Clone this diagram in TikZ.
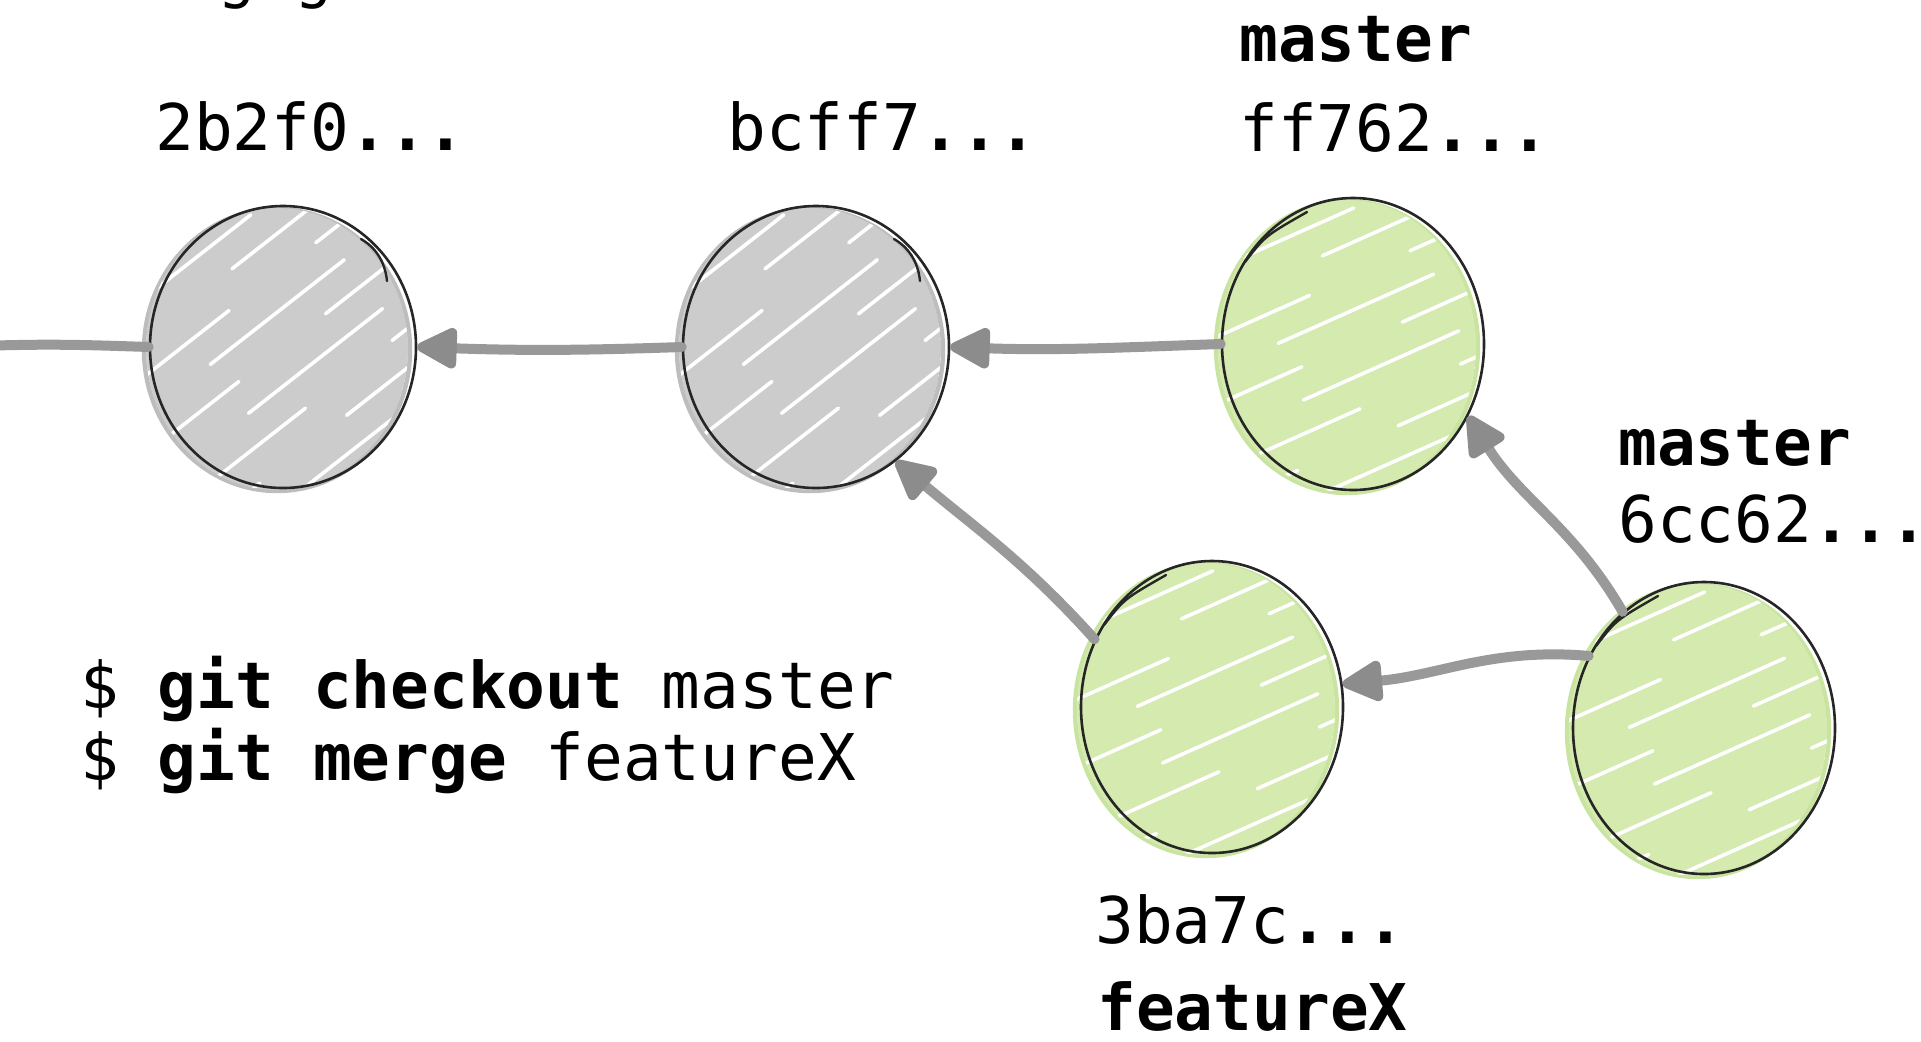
\documentclass[tikz,border=0pt]{standalone}
\usepackage{fontspec}
\setmonofont{DejaVu Sans Mono}
\usetikzlibrary{arrows.meta,shapes.geometric,calc}
\definecolor{hgray}{HTML}{CCCCCC}
\definecolor{egray}{HTML}{BDBDBD}
\definecolor{hgreen}{HTML}{D4EAAE}
\definecolor{egreen}{HTML}{C9E4A0}
\definecolor{lgray}{HTML}{999999}
\definecolor{agray}{HTML}{8C8C8C}
\definecolor{ink}{HTML}{262626}
\pgfdeclarelayer{background}
\pgfsetlayers{background,main}
\tikzset{
  graycommit/.style={ellipse, inner sep=0pt, draw=ink, line width=1.3pt, minimum width=133pt, minimum height=141pt},
  greencommit/.style={ellipse, inner sep=0pt, draw=ink, line width=1.3pt, minimum width=131pt, minimum height=146pt},
  lbl/.style={anchor=base west, inner sep=0pt, font=\fontsize{32.2pt}{38pt}\selectfont\ttfamily},
  conn/.style={draw=lgray, line width=5pt, line cap=round},
  arr/.style={conn, -{Triangle[length=23pt,width=22pt,round,color=agray]}},
  sketchline/.style={ink, line width=1.2pt, line cap=round},
}
\newcommand\hatchfill[6]{% node, fill, edge color, rx, ry, angle
  \begin{scope}
    \draw[#3, line width=2.2pt] ($(#1.center)+(-6,3)$) ellipse [x radius=#4, y radius=#5];
    \clip ($(#1.center)+(-6,2)$) ellipse [x radius=#4-2, y radius=#5];
    \fill[#2] ($(#1.center)+(-6,2)$) ellipse [x radius=#4-2, y radius=#5];
    \begin{scope}[shift={(#1.center)}, rotate=#6]
      \foreach \k in {-5,...,5} {
        \pgfmathsetmacro\ph{mod(abs(\k*61)+23,160)}
        \draw[white, line width=1.8pt, line cap=round, dash pattern=on 85pt off 55pt, dash phase=\ph pt] (-180,\k*31) -- (180,\k*31);
      }
    \end{scope}
  \end{scope}}
\begin{document}
\begin{tikzpicture}[x=0.5pt,y=-0.5pt]
\useasboundingbox (0,0) rectangle (1921,1041);
% commits
\node[graycommit] (c1) at (283,347) {};
\node[graycommit] (c2) at (816,347) {};
\node[greencommit] (c3) at (1353,344) {};
\node[greencommit] (c4) at (1212,707) {};
\node[greencommit] (c5) at (1704,728) {};
\begin{pgfonlayer}{background}
\hatchfill{c1}{hgray}{egray}{133}{141}{38}
\hatchfill{c2}{hgray}{egray}{133}{141}{38}
\hatchfill{c3}{hgreen}{egreen}{131}{146}{24}
\hatchfill{c4}{hgreen}{egreen}{131}{146}{24}
\hatchfill{c5}{hgreen}{egreen}{131}{146}{24}
\end{pgfonlayer}
% sketch strokes
\foreach \c in {c1,c2}{
  \draw[sketchline] ($(\c.center)+(78,-108)$) .. controls ($(\c.center)+(92,-100)$) and ($(\c.center)+(102,-86)$) .. ($(\c.center)+(104,-66)$);
}
\foreach \c in {c3,c4,c5}{
  \draw[sketchline] ($(\c.center)+(-108,-82)$) .. controls ($(\c.center)+(-88,-108)$) .. ($(\c.center)+(-46,-132)$);
}
% connectors
\coordinate (L) at (-20,346);
\draw[conn] (L) to[out=2,in=178] (c1.west);
\draw[arr] (c2.west) to[out=182,in=-2] (c1.east);
\draw[arr] (c3.west) to[out=182,in=-2] (c2.east);
\draw[arr] (c4.150) to[out=132,in=-40] (c2.-55);
\draw[arr] (c5.148) to[out=175,in=5] (c4.10);
\draw[arr] (c5.125) to[out=120,in=-58] (c3.-32);
% labels
\node[lbl] (tp) at (217,-5) {g g};
\node[lbl] (h1) at (155,150) {2b2f0\textbf{...}};
\node[lbl] (h2) at (727,150) {bcff7\textbf{...}};
\node[lbl] (m1) at (1239,61) {\textbf{master}};
\node[lbl] (h3) at (1239,151) {ff762\textbf{...}};
\node[lbl] (m2) at (1618,465) {\textbf{master}};
\node[lbl] (h5) at (1618,542) {6cc62\textbf{...}};
\node[lbl] (h4) at (1095,943) {3ba7c\textbf{...}};
\node[lbl] (fx) at (1097,1030) {\textbf{featureX}};
\node[lbl] (cmd1) at (80,708) {\$ \textbf{git checkout} master};
\node[lbl] (cmd2) at (80,780) {\$ \textbf{git merge} featureX};
\end{tikzpicture}
\end{document}
